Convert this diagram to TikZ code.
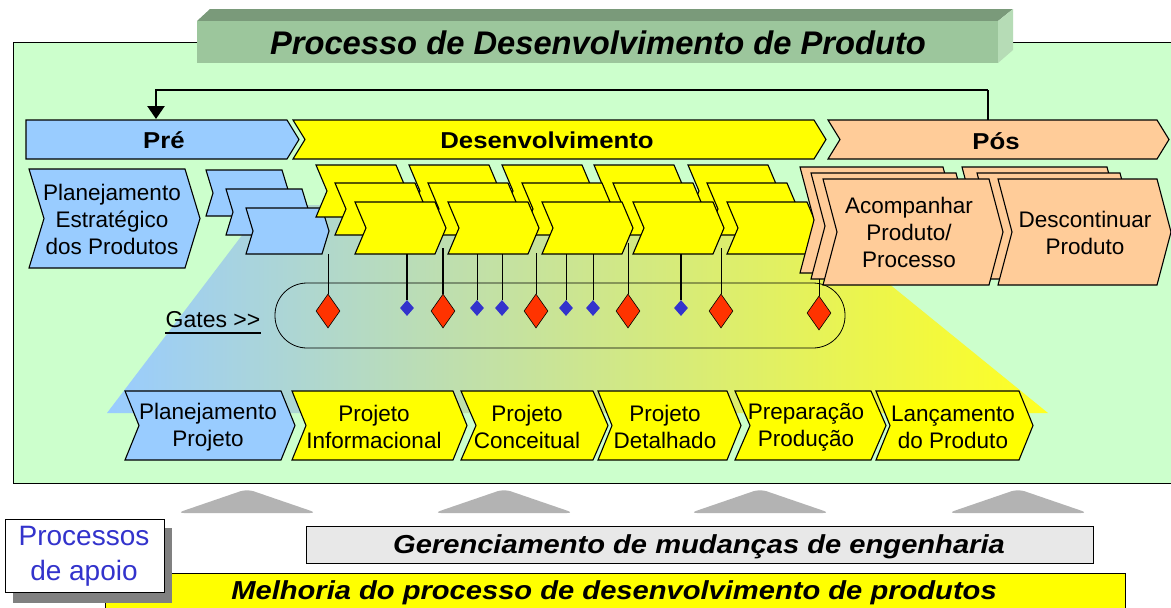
\documentclass[tikz,border=0pt]{standalone}
\usepackage{fontspec}
\setmainfont{Liberation Sans}
\newfontfamily\widefont[FakeStretch=1.12]{Liberation Sans}
\usetikzlibrary{shapes.geometric,arrows.meta}
\definecolor{frameg}{HTML}{CCFFCC}
\definecolor{cblue}{HTML}{99CCFF}
\definecolor{cyel}{HTML}{FFFF00}
\definecolor{cpeach}{HTML}{FFCC99}
\definecolor{tfront}{HTML}{9CC69C}
\definecolor{ttop}{HTML}{7A9A7A}
\definecolor{tside}{HTML}{B6DCB6}
\definecolor{cred}{HTML}{FF3300}
\definecolor{cdot}{HTML}{3333CC}
\definecolor{cgray}{HTML}{B3B3B3}
\definecolor{cbar}{HTML}{E8E8E8}
\definecolor{gmid}{HTML}{B8D9B0}
\definecolor{gyel}{HTML}{FFFF22}
\definecolor{cshadow}{HTML}{808080}
\newcommand\mychev[6]{\filldraw[shp,fill=#6] (#1,#3) -- (#2,#3) -- ({#2+#5},{(#3+#4)/2}) -- (#2,#4) -- (#1,#4) -- ({#1+#5},{(#3+#4)/2}) -- cycle;}
\begin{document}
\begin{tikzpicture}[x=1pt,y=-1pt,
  shp/.style={draw=black,line width=1.1pt,line join=miter},
  lbl/.style={align=center,inner sep=0pt,font=\fontsize{22.5}{27}\selectfont},
  hdr/.style={inner sep=0pt,font=\widefont\bfseries\fontsize{23}{27}\selectfont},
  gred/.style={shape=diamond,draw=black,line width=0.6pt,fill=cred,minimum width=24pt,minimum height=34pt,inner sep=0pt},
  gblu/.style={shape=diamond,fill=cdot,minimum width=14pt,minimum height=16pt,inner sep=0pt},
  gthin/.style={draw=black,line width=1pt},
  gthick/.style={draw=black,line width=2.2pt},
  uptri/.style={fill=cgray,rounded corners=7pt}]
\useasboundingbox (0,0) rectangle (1171,608);
\clip (0,0) rectangle (1171,608);
\fill[white] (0,0) rectangle (1171,608);

% main frame
\filldraw[fill=frameg,draw=black,line width=1pt] (13,42) rectangle (1185,483);

% title banner
\fill[ttop] (197,21) -- (210,9) -- (1013,9) -- (998,21) -- cycle;
\fill[tside] (998,21) -- (1013,9) -- (1013,50) -- (998,63) -- cycle;
\fill[tfront] (197,21) rectangle (998,63);
\node[inner sep=0pt,font=\bfseries\itshape\fontsize{32.7}{36}\selectfont] (title) at (598,42.5) {Processo de Desenvolvimento de Produto};

% gradient background
\shade[left color=cblue,middle color=gmid,right color=gyel] (265,205) -- (792,205) -- (1048,413) -- (107,413) -- cycle;

% gates capsule
\draw[line width=0.8pt,rounded corners=32pt] (275,283) rectangle (845,348);

% feedback arrow
\coordinate (fbstart) at (988,120);
\coordinate (fbcorner) at (988,90);
\coordinate (fbend) at (156,119);
\draw[line width=1.2pt] (fbstart) -- (fbcorner);
\draw[line width=2.6pt,-{Triangle[width=17pt,length=13pt]}] (fbcorner) -- (156,90) -- (fbend);

% phase bars
\filldraw[shp,fill=cblue] (26,120) -- (287,120) -- (299,139.5) -- (287,159) -- (26,159) -- cycle;
\mychev{293}{814}{120}{159}{12}{cyel}
\mychev{828}{1157}{120}{159}{12}{cpeach}
\node[hdr] (pre) at (164,140) {Pré};
\node[hdr] (desenv) at (547,140) {Desenvolvimento};
\node[hdr] (pos) at (996,141) {Pós};

% planejamento estrategico
\mychev{29}{185}{169}{268}{15}{cblue}
\node[lbl] (pep) at (112,219) {Planejamento\\Estratégico\\dos Produtos};

% small blue chevrons
\mychev{206}{282}{170}{216}{7}{cblue}
\mychev{226}{302}{189}{235}{7}{cblue}
\mychev{246}{322}{208}{254}{7}{cblue}

% yellow chevrons
\foreach \a in {316,409,502,594,688} {\mychev{\a}{\a+80}{165}{217}{11}{cyel}}
\foreach \a in {335,428,522,613,707} {\mychev{\a}{\a+80}{183}{235}{11}{cyel}}
\foreach \a in {355,448,542,633,727} {\mychev{\a}{\a+80}{202}{254}{11}{cyel}}

% peach chevrons
\mychev{962}{1107}{167}{273}{14}{cpeach}
\mychev{977}{1120}{173}{279}{14}{cpeach}
\mychev{800}{943}{167}{273}{14}{cpeach}
\mychev{811}{956}{173}{279}{14}{cpeach}
\mychev{823}{989}{179}{285}{14}{cpeach}
\mychev{998}{1157}{179}{285}{14}{cpeach}
\node[lbl] (acomp) at (909,232) {Acompanhar\\Produto/\\Processo};
\node[lbl] (descont) at (1085,233) {Descontinuar\\Produto};

% gates
\node[gred] (r1) at (328,311) {};
\node[gred] (r2) at (443,311) {};
\node[gred] (r3) at (536,311) {};
\node[gred] (r4) at (628,311) {};
\node[gred] (r5) at (721,311) {};
\node[gred] (r6) at (819,313) {};
\node[gblu] (b1) at (407,308) {};
\node[gblu] (b2) at (477,308) {};
\node[gblu] (b3) at (502,308) {};
\node[gblu] (b4) at (566,308) {};
\node[gblu] (b5) at (593,308) {};
\node[gblu] (b6) at (681,308) {};
\coordinate (tr1) at (328,254);
\coordinate (tr2) at (443,248);
\coordinate (tr3) at (536,253);
\coordinate (tr4) at (628,243);
\coordinate (tr5) at (721,248);
\coordinate (tr6) at (819,279);
\coordinate (tb1) at (407,254);
\coordinate (tb2) at (477,254);
\coordinate (tb3) at (502,254);
\coordinate (tb4) at (566,254);
\coordinate (tb5) at (593,254);
\coordinate (tb6) at (681,254);
\draw[gthin] (tr1) -- (r1.north);
\draw[gthick] (tr2) -- (r2.north);
\draw[gthin] (tr3) -- (r3.north);
\draw[gthin] (tr4) -- (r4.north);
\draw[gthin] (tr5) -- (r5.north);
\draw[gthin] (tr6) -- (r6.north);
\draw[gthick] (tb1) -- (b1.north);
\draw[gthin] (tb2) -- (b2.north);
\draw[gthin] (tb3) -- (b3.north);
\draw[gthin] (tb4) -- (b4.north);
\draw[gthin] (tb5) -- (b5.north);
\draw[gthick] (tb6) -- (b6.north);

\node[inner sep=0pt,font=\fontsize{23}{27}\selectfont] (gates) at (213,319.5) {Gates {>}{>}};
\draw[line width=2.4pt] ([yshift=-5pt]gates.south west) -- ([yshift=-5pt]gates.south east);

% bottom chevrons
\mychev{125}{281}{391}{460}{14}{cblue}
\mychev{292}{453}{391}{460}{14}{cyel}
\mychev{461}{593}{391}{460}{15}{cyel}
\mychev{598}{727}{391}{460}{14}{cyel}
\mychev{735}{871}{391}{460}{15}{cyel}
\mychev{876}{1019}{391}{460}{14}{cyel}
\node[lbl] (pp) at (208,427) {Planejamento\\Projeto};
\node[lbl] (pi) at (374,427) {Projeto\\Informacional};
\node[lbl] (pc) at (527,427) {Projeto\\Conceitual};
\node[lbl] (pd) at (665,427) {Projeto\\Detalhado};
\node[lbl] (prep) at (806,427) {Preparação\\Produção};
\node[lbl] (lanc) at (953,427) {Lançamento\\do Produto};

% up arrows
\foreach \c in {247,504,760,1018} {\fill[uptri] (\c-70,513) -- (\c,489) -- (\c+70,513) -- cycle;}

% gerenciamento bar
\filldraw[fill=cbar,draw=black,line width=1pt] (306,526) rectangle (1093,563);
\node[anchor=base,inner sep=0pt,font=\widefont\bfseries\itshape\fontsize{26}{30}\selectfont] (gerenc) at (699,553) {Gerenciamento de mudanças de engenharia};

% melhoria bar
\filldraw[fill=cyel,draw=black,line width=1pt] (105,573) rectangle (1125,620);
\node[anchor=base,inner sep=0pt,font=\widefont\bfseries\itshape\fontsize{26}{30}\selectfont] (melhoria) at (614,599) {Melhoria do processo de desenvolvimento de produtos};

% processos de apoio
\fill[cshadow] (13,528) rectangle (172,603);
\filldraw[fill=white,draw=black,line width=1pt] (5,519) rectangle (164,592);
\node[align=center,inner sep=0pt,text=cdot,font=\fontsize{28}{35}\selectfont] (apoio) at (84,556) {Processos\\de apoio};
\end{tikzpicture}
\end{document}
